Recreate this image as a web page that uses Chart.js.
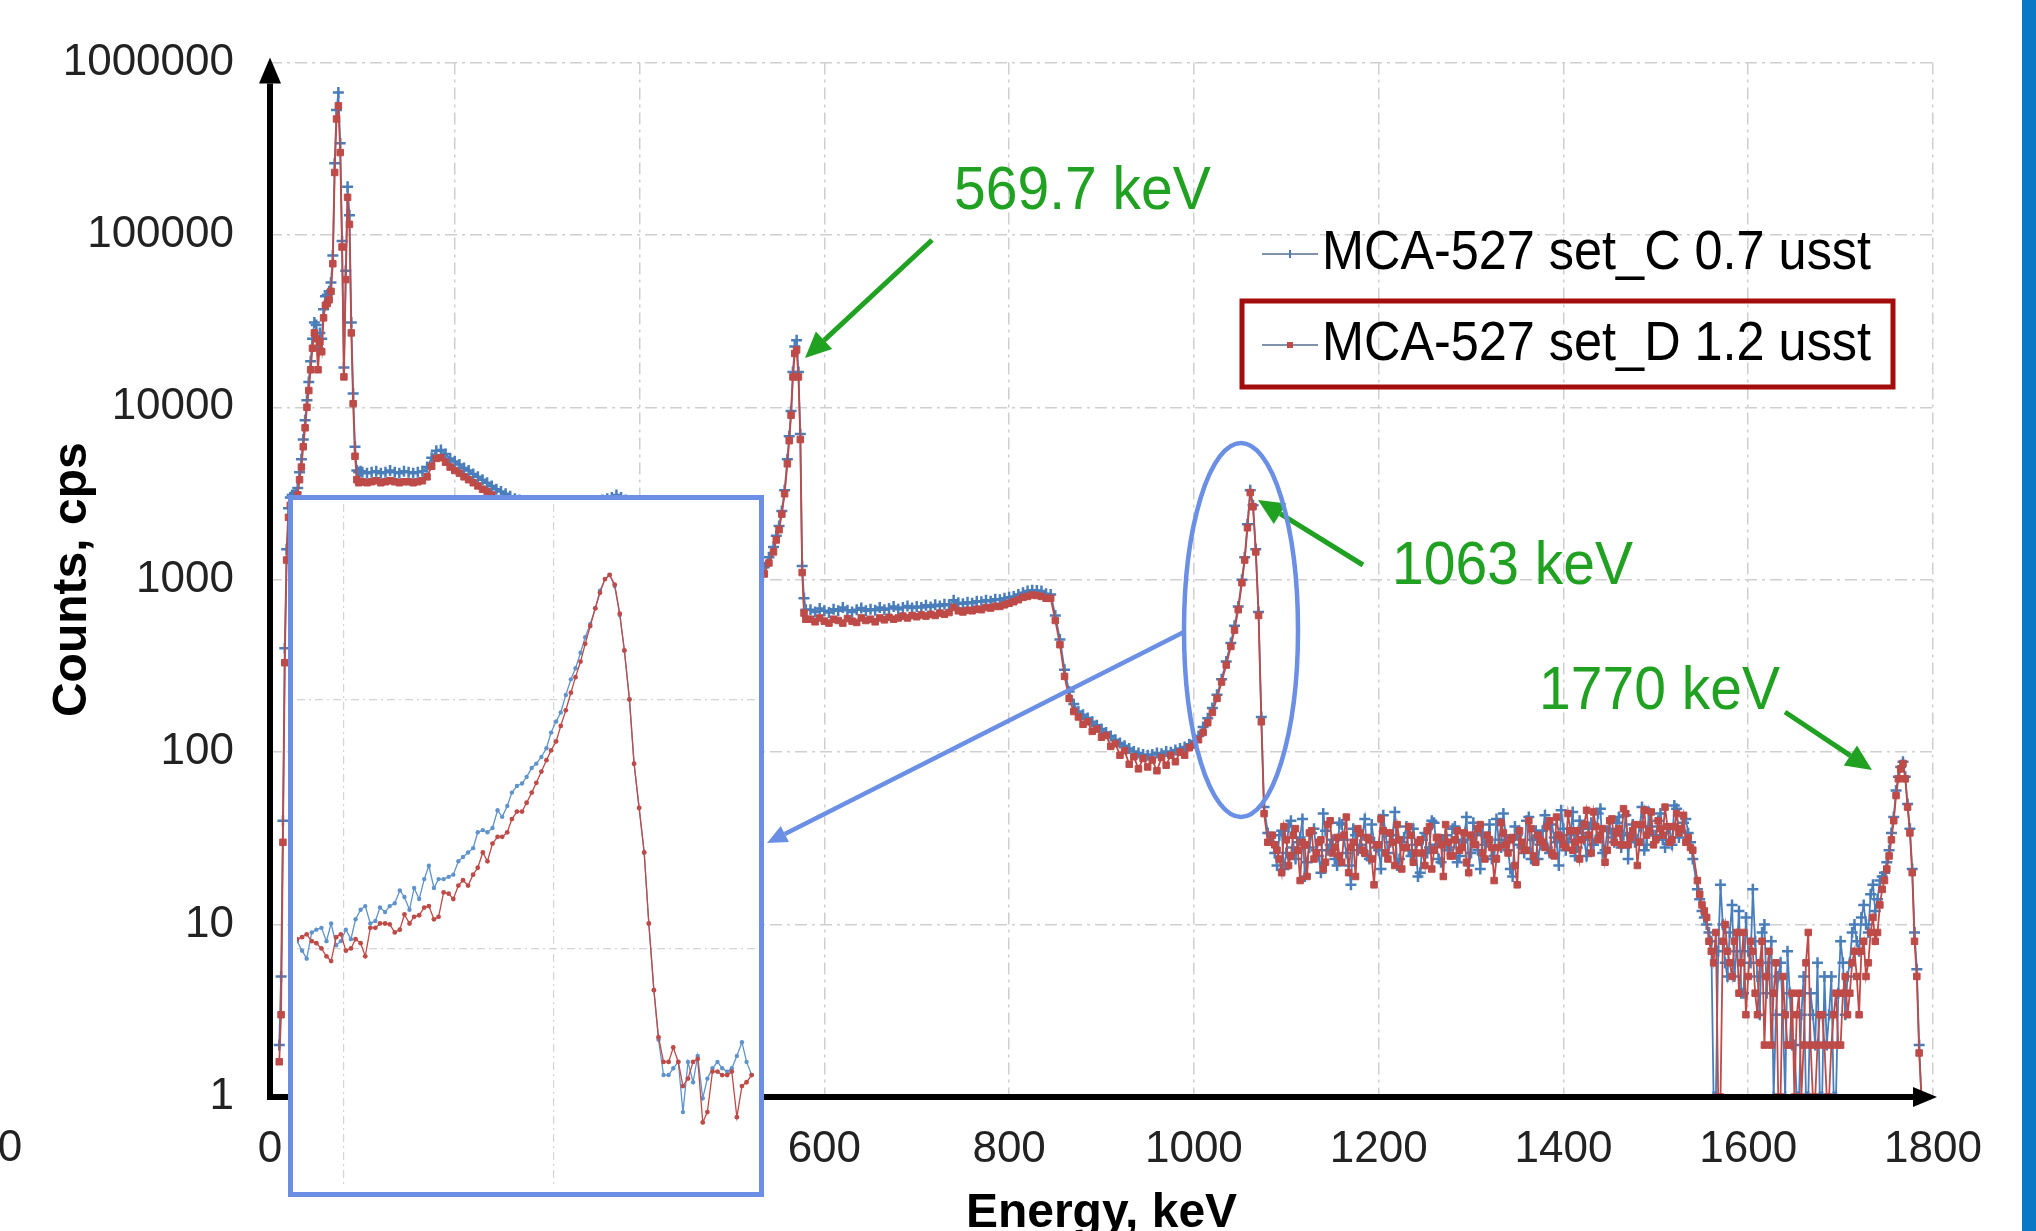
<!DOCTYPE html>
<html lang="en">
<head>
<meta charset="UTF-8">
<title>MCA-527 spectra</title>
<script src="https://cdn.jsdelivr.net/npm/chart.js@4"></script>
<style>
    html, body { margin: 0; padding: 0; background: #fff; overflow: hidden; }
    .stage { position: relative; width: 2036px; height: 1231px; overflow: hidden; background: #fff; }
    #spectrum { position: absolute; left: 0; top: 0; }
    .inset {
        position: absolute; left: 288px; top: 495px; width: 476px; height: 702px;
        box-sizing: border-box; border: 5px solid #6a8fe4; background: #fff;
    }
    .inset canvas { display: block; }
    .side-bar { position: absolute; left: 2022px; top: 0; width: 14px; height: 1231px; background: #0b78c6; }
</style>
</head>
<body>
<div class="stage">
    <canvas id="spectrum" width="2036" height="1260"></canvas>
    <div class="inset"><canvas id="zoomPeak" width="466" height="692"></canvas></div>
    <div class="side-bar"></div>
</div>

<script>
// ---- axis ticks ----
const xTicks = [0, 200, 400, 600, 800, 1000, 1200, 1400, 1600, 1800];
const yTicks = [1, 10, 100, 1000, 10000, 100000, 1000000];
const seriesNames = ['MCA-527 set_C 0.7 usst', 'MCA-527 set_D 1.2 usst'];

// ---- spectrum (energy keV / counts cps) ----
// channels with no counts sit on the axis (value 1 = bottom of the log axis)
// low energy X-ray peaks
const energyLow = [10,12,14,16,18,20,22,24,26,28,30,32,34,36,38,40,42,44,46,48,50,52,54,56,58,60,62,64,66,68,70,72,74,76,78,80,82,84,86,88,90,92,94,96,98,100];
const setCLow = [2,5,40,400,1500,2600,3000,3100,3100,3200,3400,4200,5000,6500,8400,11000,14000,18500,25000,31000,30000,22000,27000,25000,37000,44000,45000,47000,53000,76000,260000,530000,670000,340000,92000,17000,62000,190000,130000,31000,12000,5900,4300,4200,4250,4200];
const setDLow = [1.6,3,30,330,1300,2300,2700,2800,2800,2900,3100,3800,4500,5900,7600,10000,12500,16500,22000,27000,25000,16500,24000,21000,33000,39000,40000,42000,47000,68000,230000,470000,560000,300000,85000,15000,55000,165000,115000,27000,10500,5200,3800,3650,3700,3700];

// continuum below 569.7 keV
const energyMid = [105,110,115,120,125,130,135,140,145,150,155,160,165,170,175,180,185,190,195,200,205,210,215,220,225,230,235,240,245,250,255,260,265,270,275,280,285,290,295,300,305,310,315,320,325,330,335,340,345,350,355,360,365,370,375,380,385,390,395,400,405,410,415,420,425,430,435,440,445,450,455,460,465,470,475,480,485,490,495,500,505,510,515,520,525,530,535,540];
const setCMid = [4150,4200,4250,4150,4200,4300,4200,4150,4250,4200,4150,4200,4250,4500,5100,5600,5650,5350,5050,4850,4650,4450,4300,4100,3950,3800,3650,3500,3350,3250,3150,3050,2950,2900,2850,2850,2800,2800,2750,2750,2700,2700,2650,2650,2650,2700,2700,2750,2750,2800,2850,2900,2950,3000,3100,3000,2900,2750,2550,2350,2150,1950,1800,1650,1550,1450,1400,1350,1300,1280,1250,1230,1210,1200,1190,1180,1170,1160,1150,1150,1140,1140,1130,1130,1140,1150,1180,1350];
const setDMid = [3650,3700,3750,3650,3700,3750,3700,3650,3700,3700,3650,3700,3750,3950,4550,5050,5100,4800,4500,4300,4150,3950,3800,3650,3500,3350,3250,3100,2950,2850,2800,2700,2600,2550,2500,2500,2450,2450,2400,2400,2380,2380,2350,2330,2330,2380,2380,2420,2420,2460,2500,2550,2600,2650,2720,2650,2550,2420,2250,2070,1900,1720,1600,1460,1370,1290,1240,1200,1160,1140,1110,1090,1080,1070,1060,1050,1040,1030,1030,1020,1020,1010,1010,1010,1020,1030,1080,1250];

// 569.7 keV peak
const energyPeak1 = [545,548,551,554,557,560,562,564,566,568,570,572,574,576,578,580];
const setCPeak1 = [1550,1800,2050,2500,3300,5000,6800,9500,16000,22500,24500,16000,7000,1200,780,670];
const setDPeak1 = [1450,1700,1950,2400,3150,4700,6400,9000,15000,20500,21500,15000,6500,1100,640,590];

// plateau, Compton edge and valley
const energyCont = [585,590,595,600,605,610,615,620,625,630,635,640,645,650,655,660,665,670,675,680,685,690,695,700,705,710,715,720,725,730,735,740,745,750,755,760,765,770,775,780,785,790,795,800,805,810,815,820,825,830,835,840,845,850,855,860,865,870,875,880,885,890,895,900,905,910,915,920,925,930,935,940,945,950,955,960,965,970,975,980,985,990,995,1000,1005,1010,1015,1020,1025,1030,1035,1040];
const setCCont = [670,650,680,660,645,675,660,690,665,650,670,685,660,675,665,690,670,680,700,675,690,705,685,700,690,710,695,715,705,720,710,760,735,725,740,730,750,745,760,750,770,765,780,790,800,820,840,860,870,865,860,830,820,620,450,300,225,190,172,165,158,150,143,136,130,124,118,113,109,105,101,99,97,96,97,99,98,101,100,103,105,107,111,116,124,140,157,180,215,265,335,430];
const setDCont = [590,570,600,575,560,590,580,560,595,575,565,600,580,590,570,600,585,605,590,600,615,600,620,610,625,615,630,620,640,630,645,690,660,650,665,660,675,670,690,685,700,700,715,730,745,765,790,800,815,810,800,780,780,580,420,275,205,172,160,145,150,132,136,122,125,108,112,96,102,85,94,80,92,82,90,78,93,84,96,88,100,96,106,110,118,130,148,170,205,255,320,410];

// 1063 keV peak
const energyPeak2 = [1044,1048,1052,1055,1058,1061,1064,1067,1070,1073,1076,1080];
const setCPeak2 = [540,700,1000,1350,2100,3300,2700,1500,650,160,48,34];
const setDPeak2 = [510,670,960,1300,2000,3200,2650,1450,620,150,44,30];

// flat noisy region (two interleaved reads)
const energyFlat = [1085,1090,1095,1100,1105,1110,1115,1120,1125,1130,1135,1140,1145,1150,1155,1160,1165,1170,1175,1180,1185,1190,1195,1200,1205,1210,1215,1220,1225,1230,1235,1240,1245,1250,1255,1260,1265,1270,1275,1280,1285,1290,1295,1300,1305,1310,1315,1320,1325,1330,1335,1340,1345,1350,1355,1360,1365,1370,1375,1380,1385,1390,1395,1400,1405,1410,1415,1420,1425,1430,1435,1440,1445,1450,1455,1460,1465,1470,1475,1480,1485,1490,1495,1500,1505,1510,1515,1520,1525,1530,1535,1540];
const setCFlat = [30,22,35,26,40,24,32,19,28,36,25,44,27,31,22,38,26,17,33,29,41,24,30,27,43,26,33,22,30,37,25,29,20,34,28,39,24,31,27,36,23,30,42,26,33,21,29,38,25,31,44,27,19,33,28,40,24,35,29,43,26,32,22,36,30,45,28,34,25,39,31,47,27,36,30,42,33,24,38,31,48,29,37,33,44,28,36,49,32,39,34,24];
const setDFlat = [33,27,20,31,25,36,18,29,34,24,30,21,38,26,32,23,42,28,19,34,26,31,17,29,35,24,30,38,21,28,33,26,31,22,37,27,32,19,30,25,35,28,23,33,29,38,24,31,18,28,34,26,32,17,30,27,36,23,31,28,40,25,33,29,44,27,35,31,46,26,37,33,23,40,30,36,47,29,35,22,38,33,45,31,36,48,30,37,34,43,32,27];
const energyFlatB = [1087.5,1092.5,1097.5,1102.5,1107.5,1112.5,1117.5,1122.5,1127.5,1132.5,1137.5,1142.5,1147.5,1152.5,1157.5,1162.5,1167.5,1172.5,1177.5,1182.5,1187.5,1192.5,1197.5,1202.5,1207.5,1212.5,1217.5,1222.5,1227.5,1232.5,1237.5,1242.5,1247.5,1252.5,1257.5,1262.5,1267.5,1272.5,1277.5,1282.5,1287.5,1292.5,1297.5,1302.5,1307.5,1312.5,1317.5,1322.5,1327.5,1332.5,1337.5,1342.5,1347.5,1352.5,1357.5,1362.5,1367.5,1372.5,1377.5,1382.5,1387.5,1392.5,1397.5,1402.5,1407.5,1412.5,1417.5,1422.5,1427.5,1432.5,1437.5,1442.5,1447.5,1452.5,1457.5,1462.5,1467.5,1472.5,1477.5,1482.5,1487.5,1492.5,1497.5,1502.5,1507.5,1512.5,1517.5,1522.5,1527.5,1532.5,1537.5];
const setCFlatB = [26,33,21,37,28,30,41,23,34,27,20,35,29,24,39,31,22,36,27,33,25,38,28,21,34,30,45,24,32,27,36,19,31,26,40,29,23,33,28,37,25,31,22,39,27,34,30,24,41,28,33,21,37,29,26,42,31,24,35,28,38,30,46,27,33,25,40,31,36,29,44,26,35,32,39,28,43,34,30,37,27,45,33,40,31,36,29,47,35,41,30];
const setDFlatB = [29,24,37,22,33,27,30,19,35,26,31,23,40,28,25,33,20,30,36,27,32,24,29,41,26,34,22,31,28,37,23,30,26,35,21,32,29,38,25,31,27,34,20,30,36,26,33,28,24,39,29,31,22,35,27,40,25,33,30,37,26,42,32,28,35,30,24,38,33,45,31,36,27,41,34,29,44,32,38,30,46,35,29,40,33,37,31,44,36,30,28];

// low tail before 1770 keV (two interleaved reads)
const energyTail = [1545,1550,1555,1560,1565,1570,1575,1580,1585,1590,1595,1600,1605,1610,1615,1620,1625,1630,1635,1640,1645,1650,1655,1660,1665,1670,1675,1680,1685,1690,1695,1700,1705,1710,1715,1720,1725,1730,1735,1740,1745,1750];
const setCTail = [16,12,10,8,1,17,6,9,5,12,4,7,16,5,9,4,8,3,6,1,4,2,1,5,1,3,6,1,2,5,1,8,3,6,10,7,13,9,17,14,19,23];
const setDTail = [18,13,11,7,9,1,10,6,8,4,9,5,7,3,8,5,2,6,1,3,2,1,4,2,9,1,2,3,1,2,4,2,5,4,7,3,8,6,11,9,16,21];
const energyTailB = [1547.5,1552.5,1557.5,1562.5,1567.5,1572.5,1577.5,1582.5,1587.5,1592.5,1597.5,1602.5,1607.5,1612.5,1617.5,1622.5,1627.5,1632.5,1637.5,1642.5,1647.5,1652.5,1657.5,1662.5,1667.5,1672.5,1677.5,1682.5,1687.5,1692.5,1697.5,1702.5,1707.5,1712.5,1717.5,1722.5,1727.5,1732.5,1737.5,1742.5,1747.5];
const setCTailB = [14,11,9,1,7,10,5,13,7,4,11,6,8,3,10,6,1,5,3,7,2,1,3,1,4,2,1,5,3,1,4,6,5,9,8,11,10,15,12,18,20];
const setDTailB = [15,12,8,6,1,8,7,5,9,6,3,8,4,6,2,7,4,1,5,2,4,3,1,6,2,1,3,2,1,3,2,4,3,6,5,7,5,9,8,13,18];

// 1770 keV peak
const energyPeak3 = [1752.5,1755,1757.5,1760,1762.5,1765,1767.5,1770,1772.5,1775,1777.5,1780,1782.5,1785,1787.5];
const setCPeak3 = [27,34,42,60,72,82,88,72,50,36,21,9,5.5,2,1];
const setDPeak3 = [25,31,40,56,70,80,86,70,48,34,20,8,5,1.8,1];

// ---- inset: zoom on the 1063 keV peak ----
const insetEnergy = [989.0,990.2,991.3,992.5,993.6,994.8,996.0,997.1,998.3,999.4,1000.6,1001.8,1002.9,1004.1,1005.2,1006.4,1007.6,1008.7,1009.9,1011.0,1012.2,1013.4,1014.5,1015.7,1016.8,1018.0,1019.2,1020.3,1021.5,1022.6,1023.8,1025.0,1026.1,1027.3,1028.4,1029.6,1030.8,1031.9,1033.1,1034.2,1035.4,1036.6,1037.7,1038.9,1040.0,1041.2,1042.4,1043.5,1044.7,1045.8,1047.0,1048.2,1049.3,1050.5,1051.6,1052.8,1054.0,1055.1,1056.3,1057.4,1058.6,1059.8,1060.9,1062.1,1063.2,1064.4,1065.6,1066.7,1067.9,1069.0,1070.2,1071.4,1072.5,1073.7,1074.8,1076.0,1077.2,1078.3,1079.5,1080.6,1081.8,1083.0,1084.1,1085.3,1086.4,1087.6,1088.8,1089.9,1091.1,1092.2,1093.4,1094.6,1095.7,1096.9];
const insetSetC = [107,98,91,116,119,121,107,126,103,107,119,109,131,143,148,126,129,146,140,148,152,171,161,143,175,158,190,215,175,190,190,194,198,224,233,243,253,293,299,293,305,359,338,374,423,450,460,489,531,553,588,638,737,817,888,1044,1206,1337,1543,1781,2014,2328,2742,3050,3170,2858,2188,1575,1002,553,367,243,126,68,43,31,31,33,35,22,35,29,37,25,30,33,35,33,32,33,37,42,35,31];
const insetSetD = [109,111,114,107,105,100,93,89,111,114,98,100,109,105,93,121,121,126,126,125,116,119,137,126,134,136,146,148,131,134,168,166,158,179,188,179,198,211,243,224,264,281,281,293,331,355,355,385,423,463,514,571,625,679,784,906,1066,1231,1422,1675,1974,2328,2686,3050,3170,2900,2215,1575,1002,553,367,243,126,68,44,35,35,40,35,28,30,35,36,20,22,32,32,31,31,32,21,28,29,31];
const insetXTicks = [1000, 1050];
const insetYTicks = [100, 1000];

const FONT = '"Liberation Sans", Arial, sans-serif';
const BLUE = '#4a7ebb';
const RED = '#be4b48';
const GREEN = '#21a121';
const FRAME = '#6a8fe4';
const GRID = '#cfcfcf';
const GRID_DASH = [12, 5, 3, 5];

function toPoints(xs, ys) {
    return xs.map((x, i) => ({ x: x, y: ys[i] }));
}

const segments = [
    [energyLow, setCLow, setDLow],
    [energyMid, setCMid, setDMid],
    [energyPeak1, setCPeak1, setDPeak1],
    [energyCont, setCCont, setDCont],
    [energyPeak2, setCPeak2, setDPeak2],
    [energyFlat, setCFlat, setDFlat],
    [energyFlatB, setCFlatB, setDFlatB],
    [energyTail, setCTail, setDTail],
    [energyTailB, setCTailB, setDTailB],
    [energyPeak3, setCPeak3, setDPeak3]
];
let pointsC = [], pointsD = [];
segments.forEach(([e, c, d]) => {
    if (e.length !== c.length || e.length !== d.length) console.warn('length mismatch', e[0]);
    pointsC = pointsC.concat(toPoints(e, c));
    pointsD = pointsD.concat(toPoints(e, d));
});
pointsC.sort((a, b) => a.x - b.x);
pointsD.sort((a, b) => a.x - b.x);

// ---- drawing helpers for the annotations ----
function arrow(ctx, x1, y1, x2, y2, color, width, headLen, headHalf) {
    const ang = Math.atan2(y2 - y1, x2 - x1);
    const bx = x2 - headLen * Math.cos(ang), by = y2 - headLen * Math.sin(ang);
    ctx.strokeStyle = color;
    ctx.fillStyle = color;
    ctx.lineWidth = width;
    ctx.beginPath();
    ctx.moveTo(x1, y1);
    ctx.lineTo(bx, by);
    ctx.stroke();
    ctx.beginPath();
    ctx.moveTo(x2, y2);
    ctx.lineTo(bx + headHalf * Math.sin(ang), by - headHalf * Math.cos(ang));
    ctx.lineTo(bx - headHalf * Math.sin(ang), by + headHalf * Math.cos(ang));
    ctx.closePath();
    ctx.fill();
}

function squeezedText(ctx, txt, x, y, font, color, sx) {
    ctx.save();
    ctx.font = font;
    ctx.fillStyle = color;
    ctx.textBaseline = 'middle';
    ctx.textAlign = 'left';
    ctx.translate(x, y);
    ctx.scale(sx, 1);
    ctx.fillText(txt, 0, 0);
    ctx.restore();
}

const decorations = {
    id: 'decorations',
    afterDatasetsDraw(chart) {
        const { ctx, chartArea: a } = chart;
        ctx.save();

        // black axes with arrow heads
        arrow(ctx, a.left, a.bottom + 3, a.left, a.top - 5, '#000', 6, 26, 11);
        arrow(ctx, a.left - 3, a.bottom, a.right + 4, a.bottom, '#000', 6, 24, 10);

        // stray tick label at the left edge
        ctx.font = '44px ' + FONT;
        ctx.fillStyle = '#222';
        ctx.textAlign = 'center';
        ctx.textBaseline = 'middle';
        ctx.fillText('0', 10, 1149);

        // peak labels with green arrows
        const big = '62px ' + FONT;
        squeezedText(ctx, '569.7 keV', 954, 192, big, GREEN, 0.92);
        arrow(ctx, 932, 240, 805, 358, GREEN, 5, 26, 12);
        squeezedText(ctx, '1063 keV', 1392, 567, big, GREEN, 0.92);
        arrow(ctx, 1363, 565, 1258, 500, GREEN, 5, 26, 12);
        squeezedText(ctx, '1770 keV', 1539, 692, big, GREEN, 0.92);
        arrow(ctx, 1785, 712, 1872, 770, GREEN, 5, 26, 12);

        // ellipse round the 1063 keV peak and the pointer to the inset
        ctx.strokeStyle = FRAME;
        ctx.lineWidth = 4.5;
        ctx.beginPath();
        ctx.ellipse(1241, 630, 57, 187, 0, 0, Math.PI * 2);
        ctx.stroke();
        arrow(ctx, 1184, 632, 767, 843, FRAME, 4.5, 20, 9);

        // legend
        const rows = [254, 345];
        const colors = [BLUE, RED];
        chart.data.datasets.forEach((ds, i) => {
            const y = rows[i];
            ctx.strokeStyle = '#8193ab';
            ctx.lineWidth = 2;
            ctx.beginPath();
            ctx.moveTo(1262, y);
            ctx.lineTo(1318, y);
            ctx.stroke();
            ctx.fillStyle = colors[i];
            ctx.strokeStyle = colors[i];
            if (i === 0) {
                ctx.beginPath();
                ctx.moveTo(1290, y - 4); ctx.lineTo(1290, y + 4);
                ctx.stroke();
            } else {
                ctx.fillRect(1287, y - 3, 6, 6);
            }
            squeezedText(ctx, ds.label, 1322, y, '56px ' + FONT, '#000', 0.9);
        });
        ctx.strokeStyle = '#a30d0d';
        ctx.lineWidth = 5;
        ctx.strokeRect(1242, 301, 651, 86);

        ctx.restore();
    }
};

const gridOpts = { color: GRID, lineWidth: 1.5, drawTicks: false, borderDash: GRID_DASH };
const borderOpts = { display: false, dash: GRID_DASH };

new Chart(document.getElementById('spectrum'), {
    type: 'line',
    data: {
        datasets: [
            {
                label: seriesNames[0],
                data: pointsC,
                borderColor: BLUE,
                backgroundColor: BLUE,
                borderWidth: 1.8,
                pointStyle: 'cross',
                pointRadius: 5.5,
                pointBorderWidth: 2.5,
                pointBorderColor: BLUE,
                order: 1
            },
            {
                label: seriesNames[1],
                data: pointsD,
                borderColor: RED,
                backgroundColor: RED,
                borderWidth: 1.8,
                pointStyle: 'rect',
                pointRadius: 4.6,
                pointBorderWidth: 1,
                pointBorderColor: RED,
                order: 0
            }
        ]
    },
    options: {
        responsive: false,
        animation: false,
        layout: { padding: { left: 0, top: 62, right: 103, bottom: 0 } },
        plugins: { legend: { display: false }, tooltip: { enabled: false } },
        scales: {
            x: {
                type: 'linear',
                min: 0,
                max: 1800,
                afterBuildTicks: (s) => { s.ticks = xTicks.map(v => ({ value: v })); },
                afterFit: (s) => { s.height = 163; },
                ticks: {
                    padding: 26, maxRotation: 0, color: '#222', font: { family: FONT, size: 44 },
                    callback: (v) => String(v)
                },
                grid: gridOpts,
                border: borderOpts,
                title: {
                    display: true, text: 'Energy, keV', color: '#000',
                    font: { family: FONT, size: 48, weight: 'bold' },
                    padding: { top: 0, bottom: 17 }
                }
            },
            y: {
                type: 'logarithmic',
                min: 1,
                max: 1000000,
                afterBuildTicks: (s) => { s.ticks = yTicks.map(v => ({ value: v })); },
                afterFit: (s) => { s.width = 270; },
                ticks: {
                    padding: 36, color: '#222', font: { family: FONT, size: 44 },
                    callback: (v) => String(v)
                },
                grid: gridOpts,
                border: borderOpts,
                title: {
                    display: true, text: 'Counts, cps', color: '#000',
                    font: { family: FONT, size: 48, weight: 'bold' },
                    padding: { top: 44, bottom: 0 }
                }
            }
        }
    },
    plugins: [decorations]
});

// inset chart
new Chart(document.getElementById('zoomPeak'), {
    type: 'line',
    data: {
        datasets: [
            {
                label: seriesNames[0],
                data: toPoints(insetEnergy, insetSetC),
                borderColor: '#5f93cc',
                backgroundColor: '#5f93cc',
                borderWidth: 1.3,
                pointRadius: 2.2,
                pointBorderWidth: 0,
                order: 1
            },
            {
                label: seriesNames[1],
                data: toPoints(insetEnergy, insetSetD),
                borderColor: RED,
                backgroundColor: RED,
                borderWidth: 1.3,
                pointRadius: 2.4,
                pointBorderWidth: 0,
                order: 0
            }
        ]
    },
    options: {
        responsive: false,
        animation: false,
        layout: { padding: 0 },
        plugins: { legend: { display: false }, tooltip: { enabled: false } },
        scales: {
            x: {
                type: 'linear', min: 989, max: 1097.7,
                afterBuildTicks: (s) => { s.ticks = insetXTicks.map(v => ({ value: v })); },
                afterFit: (s) => { s.height = 0; },
                ticks: { display: false },
                grid: { color: '#d4d4d4', lineWidth: 1.2, drawTicks: false, borderDash: [8, 4, 2, 4] },
                border: { display: false, dash: [8, 4, 2, 4] }
            },
            y: {
                type: 'logarithmic', min: 10.9, max: 6110,
                afterBuildTicks: (s) => { s.ticks = insetYTicks.map(v => ({ value: v })); },
                afterFit: (s) => { s.width = 0; },
                ticks: { display: false },
                grid: { color: '#d4d4d4', lineWidth: 1.2, drawTicks: false, borderDash: [8, 4, 2, 4] },
                border: { display: false, dash: [8, 4, 2, 4] }
            }
        }
    }
});
</script>
</body>
</html>
